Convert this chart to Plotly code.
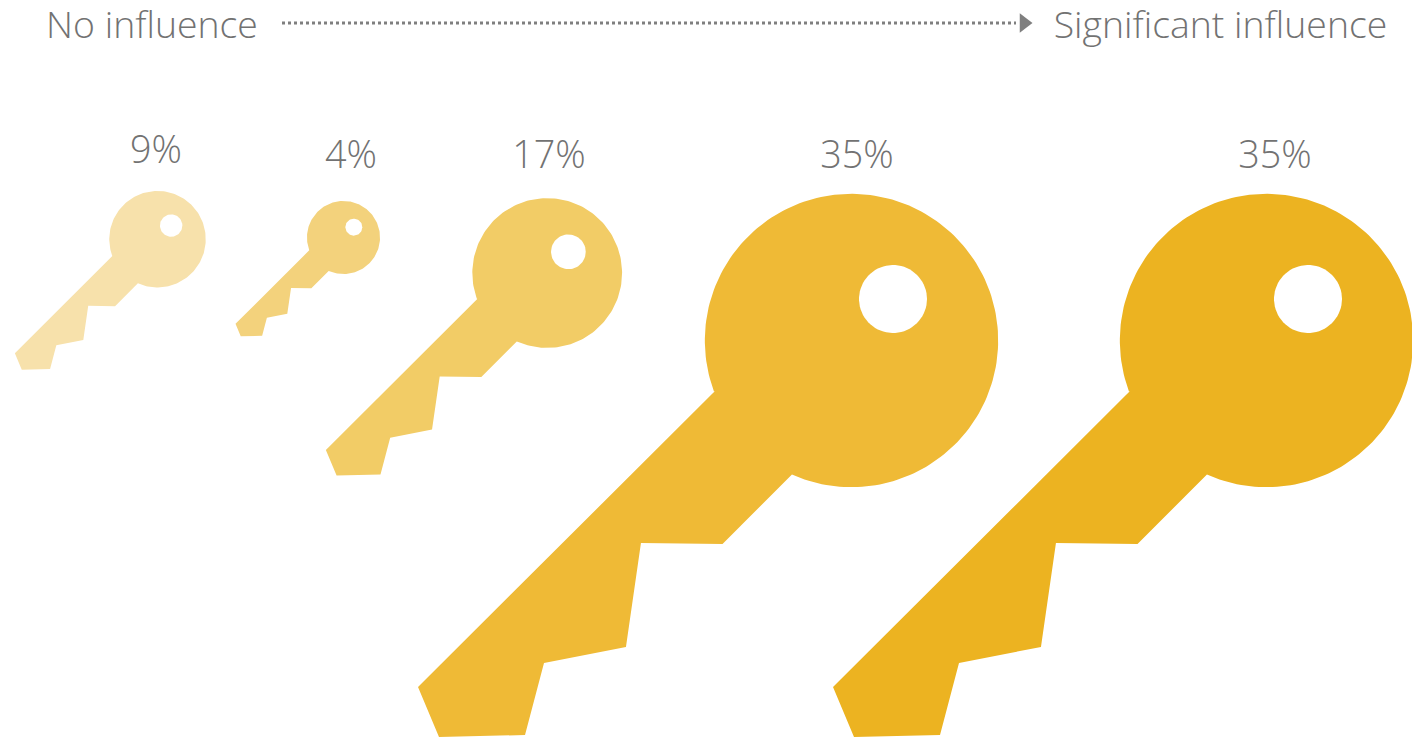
import numpy as np
import plotly.graph_objects as go

# Share of respondents at each step of the influence scale
values = [9, 4, 17, 35, 35]
scale_start = "No influence"
scale_end = "Significant influence"

# Placement of each key: head centre and head radius in page pixels
head_x = [157.5, 343.5, 547.2, 851.5, 1266.5]
head_y = [239.2, 237.5, 273.0, 340.5, 340.5]
head_r = [48.2, 36.5, 74.8, 146.5, 146.5]
fills = ["#F7E1AB", "#F3D27C", "#F2CC66", "#EFBA36", "#ECB321"]
label_x = [156, 351, 549, 857, 1275]
label_y = [154, 159, 159, 159, 159]

TEXT_GREY = "#727272"
ARROW_GREY = "#7F7F7F"
FONT = "Open Sans"

# Key outline in head-radius units, relative to the head centre, y down:
# shaft and bitting, from the upper neck round to the lower neck
BLADE_U = [-0.9317, -2.9590, -2.8157, -2.2287, -2.0990, -1.5396, -1.4372, -0.8805, -0.4065]
BLADE_V = [0.3447, 2.3652, 2.7065, 2.6928, 2.2013, 2.0921, 1.3823, 1.3891, 0.9149]
HOLE_U, HOLE_V, HOLE_R = 0.2833, -0.2833, 0.2321


def key_outline(cx, cy, r):
    """Closed outline of a key: blade polygon, then the arc of the head."""
    start = np.arctan2(BLADE_V[-1], BLADE_U[-1])
    end = np.arctan2(BLADE_V[0], BLADE_U[0])
    if end > start:
        end -= 2 * np.pi
    angles = np.linspace(start, end, 180)
    radius = np.hypot(BLADE_U[-1], BLADE_V[-1])
    u = np.concatenate([BLADE_U, radius * np.cos(angles)])
    v = np.concatenate([BLADE_V, radius * np.sin(angles)])
    return cx + r * u, cy + r * v


def hole_outline(cx, cy, r):
    angles = np.linspace(0, 2 * np.pi, 72)
    return (cx + r * (HOLE_U + HOLE_R * np.cos(angles)),
            cy + r * (HOLE_V + HOLE_R * np.sin(angles)))


fig = go.Figure()

for cx, cy, r, colour, value in zip(head_x, head_y, head_r, fills, values):
    x, y = key_outline(cx, cy, r)
    fig.add_trace(go.Scatter(x=x, y=y, mode="lines", fill="toself", fillcolor=colour,
                             line=dict(width=0), hoverinfo="text", text=f"{value}%"))
    hx, hy = hole_outline(cx, cy, r)
    fig.add_trace(go.Scatter(x=hx, y=hy, mode="lines", fill="toself", fillcolor="#FFFFFF",
                             line=dict(width=0), hoverinfo="skip"))

# Percentage above each key
fig.add_trace(go.Scatter(x=label_x, y=label_y, mode="text",
                         text=[f"{v}%" for v in values], textposition="middle center",
                         textfont=dict(family=FONT, size=37.7, color=TEXT_GREY, weight=300),
                         hoverinfo="skip"))

# Dotted arrow running along the scale
fig.add_trace(go.Scatter(x=[282, 1016], y=[23, 23], mode="lines",
                         line=dict(color=ARROW_GREY, width=3, dash="dot"), hoverinfo="skip"))
fig.add_trace(go.Scatter(x=[1024], y=[23], mode="markers",
                         marker=dict(symbol="triangle-right", size=17, color=ARROW_GREY),
                         hoverinfo="skip"))

# Scale end labels
fig.add_trace(go.Scatter(x=[152, 1220.5], y=[29, 29], mode="text",
                         text=[scale_start, scale_end], textposition="middle center",
                         textfont=dict(family=FONT, size=37.4, color=TEXT_GREY, weight=300),
                         cliponaxis=False, hoverinfo="skip"))

fig.update_layout(
    width=1412, height=738,
    margin=dict(l=0, r=0, t=0, b=0),
    paper_bgcolor="#FFFFFF", plot_bgcolor="#FFFFFF",
    showlegend=False,
    xaxis=dict(range=[0, 1412], visible=False, fixedrange=True),
    yaxis=dict(range=[738, 0], visible=False, fixedrange=True),
)

fig.write_html("out.html", config={"displayModeBar": False})
